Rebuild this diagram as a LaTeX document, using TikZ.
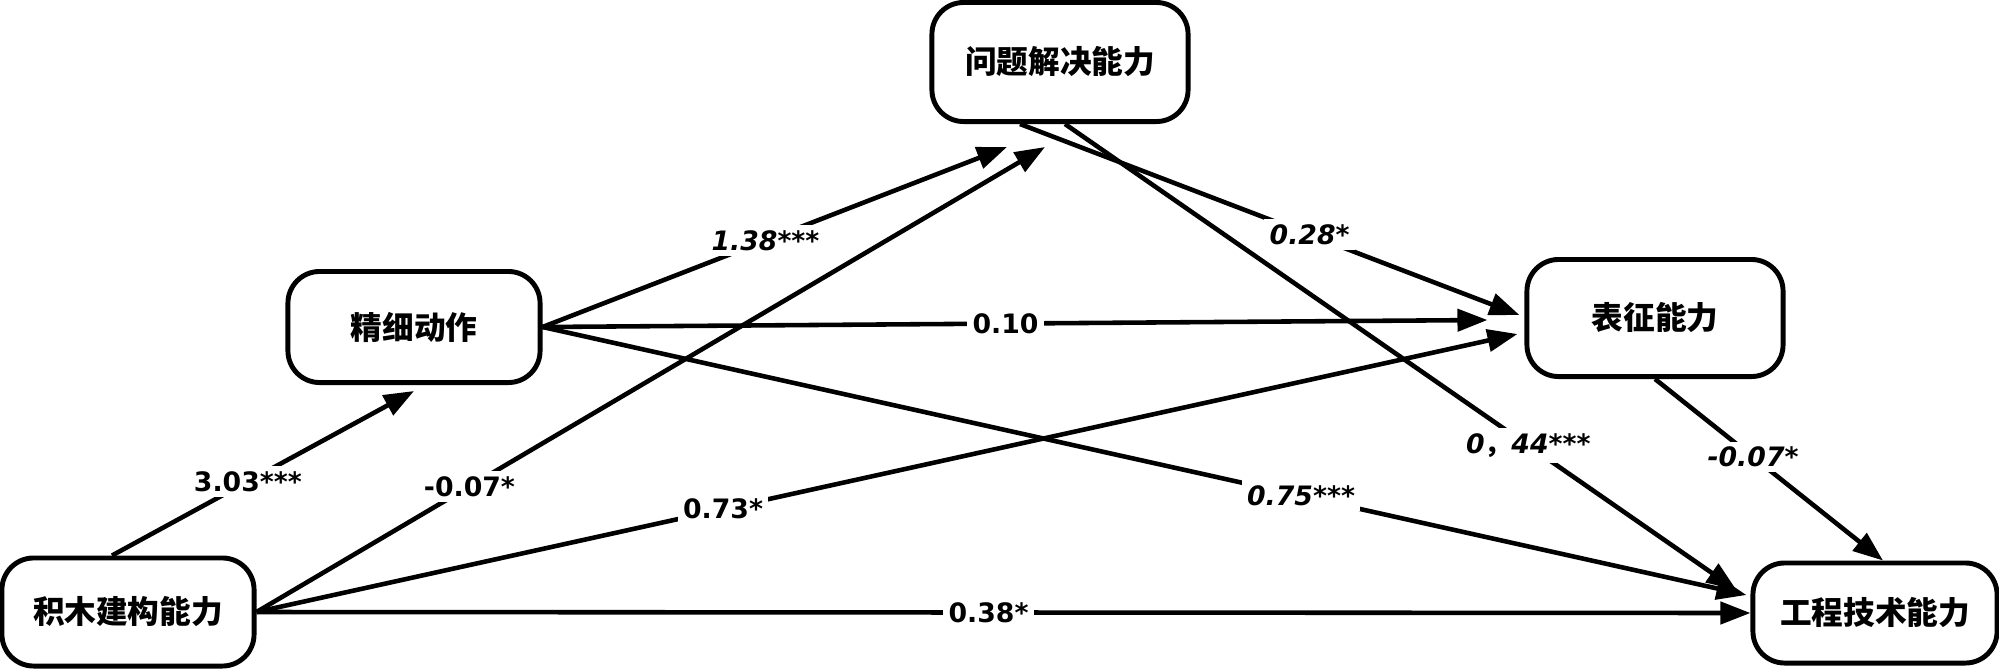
\documentclass[tikz,border=0pt]{standalone}
\usepackage{fontspec}
\setmainfont{DejaVu Sans}
\newfontfamily\cjk{Noto Sans CJK SC}
\usepackage{tikz}
\usetikzlibrary{arrows.meta}

\begin{document}
\begin{tikzpicture}[
  x=0.01cm,y=-0.01cm,
  ability/.style={draw,line width=1.4pt,rounded corners=9pt,fill=white,
     minimum width=2.52cm,minimum height=1.11cm,align=center,
     font=\cjk\bfseries\fontsize{9}{11}\selectfont},
  effect/.style={-{Triangle[length=3mm,width=2.2mm]},line width=1.3pt},
  coef/.style={fill=white,inner sep=1.5pt,font=\bfseries\fontsize{7.6}{9}\selectfont},
  coefit/.style={coef,font=\bfseries\fontsize{7.6}{9}\selectfont\itshape}
]
\useasboundingbox (0,0) rectangle (1999,669);
% abilities
\node[ability,minimum height=1.08cm] (jimu) at (128,612) {积木建构能力};
\node[ability] (jingxi) at (414,327) {精细动作};
\node[ability,minimum width=2.56cm,minimum height=1.19cm] (wenti) at (1060,62) {问题解决能力};
\node[ability,minimum width=2.56cm,minimum height=1.17cm] (biaozheng) at (1655,318) {表征能力};
\node[ability,minimum width=2.44cm,minimum height=1cm] (gongcheng) at (1875,613) {工程技术能力};
% paths from jimu
\draw[effect] ([xshift=-0.16cm]jimu.north) -- node[coef,pos=0.45]{3.03***} ([yshift=-0.06cm]jingxi.south);
\draw[effect] (jimu.east) -- node[coef,pos=0.27]{-0.07*} ([shift={(-15,23)}]wenti.south);
\draw[effect] (jimu.east) -- node[coef,pos=0.37]{0.73*} ([shift={(-7,16)}]biaozheng.west);
\draw[effect] (jimu.east) -- node[coef,pos=0.49]{0.38*} (gongcheng.west);
% paths from jingxi
\draw[effect] (jingxi.east) -- node[coefit,pos=0.48]{1.38***} ([shift={(-53,23)}]wenti.south);
\draw[effect] (jingxi.east) -- node[coef,pos=0.49]{0.10} ([shift={(-37,2)}]biaozheng.west);
\draw[effect] (jingxi.east) -- node[coefit,pos=0.63]{0.75***} ([shift={(-4,-18)}]gongcheng.west);
% paths from wenti and biaozheng
\draw[effect] ([xshift=-0.4cm]wenti.south) -- node[coefit,pos=0.58]{0.28*} ([shift={(-5,-3)}]biaozheng.west);
\draw[effect] ([xshift=0.05cm]wenti.south) -- node[coefit,pos=0.69]{0{\cjk ，}44***} ([shift={(-14,-23)}]gongcheng.west);
\draw[effect] (biaozheng.south) -- node[coefit,pos=0.43]{-0.07*} ([xshift=0.08cm]gongcheng.north);
\end{tikzpicture}
\end{document}
